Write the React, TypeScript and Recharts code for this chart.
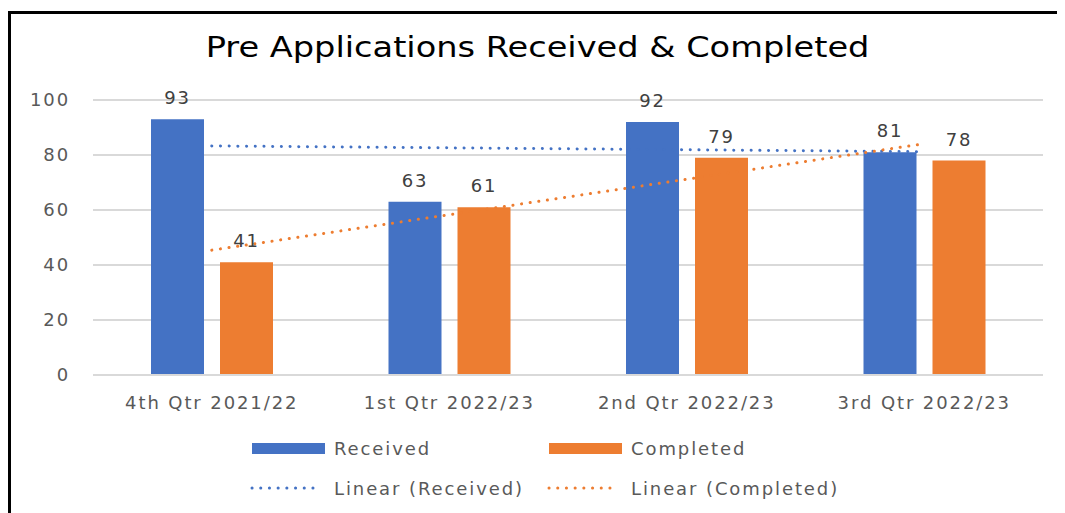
import React from 'react';
import {
  ComposedChart,
  Bar,
  Line,
  XAxis,
  YAxis,
  CartesianGrid,
  LabelList,
  Legend,
} from 'recharts';

const quarters = ['4th Qtr 2021/22', '1st Qtr 2022/23', '2nd Qtr 2022/23', '3rd Qtr 2022/23'];
const received = [93, 63, 92, 81];
const completed = [41, 61, 79, 78];
// trendline values
const trendReceived = [83.3, 82.6, 81.9, 81.2];
const trendCompleted = [45.4, 58.3, 71.2, 84.1];
const yTicks = [0, 20, 40, 60, 80, 100];

const BLUE = '#4472C4';
const ORANGE = '#ED7D31';
const FONT = '"DejaVu Sans", "Open Sans", sans-serif';
const LS = 1.9;
const W = 1054;
const H = 499;

const data = quarters.map((q, i) => ({
  quarter: q,
  received: received[i],
  completed: completed[i],
  trendReceived: trendReceived[i],
  trendCompleted: trendCompleted[i],
}));

const legendItems = [
  { label: 'Received', color: BLUE, kind: 'bar', x: 241, y: 43 },
  { label: 'Completed', color: ORANGE, kind: 'bar', x: 538, y: 43 },
  { label: 'Linear (Received)', color: BLUE, kind: 'dot', x: 239, y: 83 },
  { label: 'Linear (Completed)', color: ORANGE, kind: 'dot', x: 536, y: 83 },
];

const ChartLegend = () => (
  <div style={{ position: 'relative', width: W, height: 92 }}>
    {legendItems.map((it) => (
      <div key={it.label} style={{ position: 'absolute', left: it.x, top: it.y - 12, height: 24, display: 'flex', alignItems: 'center' }}>
        {it.kind === 'bar' ? (
          <div style={{ width: 73, height: 11, background: it.color }} />
        ) : (
          <svg width={73} height={6}>
            <line x1={2} y1={3} x2={71} y2={3} stroke={it.color} strokeWidth={3} strokeDasharray="0.1 8.6" strokeLinecap="round" />
          </svg>
        )}
        <span style={{ marginLeft: it.kind === 'bar' ? 9 : 11, fontSize: 18, letterSpacing: LS, color: '#595959', fontFamily: FONT, whiteSpace: 'nowrap' }}>
          {it.label}
        </span>
      </div>
    ))}
  </div>
);

export default function App() {
  return (
    <div
      style={{
        position: 'relative',
        top: 3,
        width: 1057,
        height: 502,
        borderTop: '3px solid #000',
        borderLeft: '3px solid #000',
        background: '#fff',
        fontFamily: FONT,
      }}
    >
      <div
        style={{
          position: 'absolute',
          top: 17,
          left: 0,
          width: W,
          textAlign: 'center',
          fontFamily: FONT,
        }}
      >
        <span style={{ display: 'inline-block', fontSize: 28, color: '#000', transform: 'scaleX(1.2)' }}>
          Pre Applications Received &amp; Completed
        </span>
      </div>
      <ComposedChart
        width={W}
        height={H}
        data={data}
        margin={{ top: 86, right: 22, left: 0, bottom: 16 }}
        barGap={16}
      >
        <CartesianGrid vertical={false} stroke="#d9d9d9" strokeWidth={2} />
        <XAxis
          dataKey="quarter"
          height={30}
          tickLine={false}
          tickSize={0}
          tickMargin={21}
          axisLine={{ stroke: '#d9d9d9', strokeWidth: 2 }}
          tick={{ fill: '#595959', fontSize: 18, fontFamily: FONT, letterSpacing: LS }}
        />
        <YAxis
          width={82}
          domain={[0, 100]}
          ticks={yTicks}
          axisLine={false}
          tickLine={false}
          tickSize={0}
          tickMargin={23}
          tick={{ fill: '#595959', fontSize: 18, fontFamily: FONT, letterSpacing: LS }}
        />
        <Bar dataKey="received" fill={BLUE} barSize={53} isAnimationActive={false}>
          <LabelList dataKey="received" position="top" offset={15} fill="#404040" fontSize={18} fontFamily={FONT} letterSpacing={LS} />
        </Bar>
        <Bar dataKey="completed" fill={ORANGE} barSize={53} isAnimationActive={false}>
          <LabelList dataKey="completed" position="top" offset={15} fill="#404040" fontSize={18} fontFamily={FONT} letterSpacing={LS} />
        </Bar>
        <Line
          dataKey="trendReceived"
          stroke={BLUE}
          strokeWidth={3}
          strokeDasharray="0.1 8.6"
          strokeLinecap="round"
          dot={false}
          activeDot={false}
          isAnimationActive={false}
        />
        <Line
          dataKey="trendCompleted"
          stroke={ORANGE}
          strokeWidth={3}
          strokeDasharray="0.1 8.6"
          strokeLinecap="round"
          dot={false}
          activeDot={false}
          isAnimationActive={false}
        />
        <Legend
          verticalAlign="bottom"
          width={W}
          height={92}
          wrapperStyle={{ left: 0 }}
          content={() => <ChartLegend />}
        />
      </ComposedChart>
    </div>
  );
}
